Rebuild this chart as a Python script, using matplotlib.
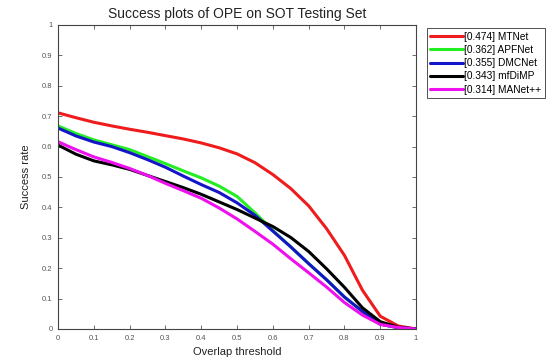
""" success plot (OPE) on the SOT testing set """

import numpy as np
import matplotlib.pyplot as plt

plt.rcParams['font.family'] = ['Liberation Sans', 'DejaVu Sans']

# overlap thresholds and success rates per tracker
thresholds = [0.0, 0.05, 0.1, 0.15, 0.2, 0.25, 0.3, 0.35, 0.4, 0.45, 0.5,
              0.55, 0.6, 0.65, 0.7, 0.75, 0.8, 0.85, 0.9, 0.95, 1.0]

mtnet = [0.711, 0.695, 0.680, 0.668, 0.657, 0.647, 0.636, 0.625, 0.612, 0.596, 0.576,
         0.547, 0.508, 0.462, 0.405, 0.330, 0.242, 0.128, 0.042, 0.010, 0.0]
apfnet = [0.668, 0.643, 0.622, 0.606, 0.590, 0.567, 0.544, 0.520, 0.497, 0.470, 0.436,
          0.382, 0.324, 0.270, 0.215, 0.162, 0.105, 0.058, 0.016, 0.004, 0.0]
dmcnet = [0.661, 0.635, 0.615, 0.600, 0.580, 0.557, 0.532, 0.503, 0.475, 0.449, 0.415,
          0.374, 0.322, 0.270, 0.215, 0.162, 0.105, 0.058, 0.016, 0.004, 0.0]
mfdimp = [0.605, 0.575, 0.553, 0.540, 0.525, 0.505, 0.485, 0.465, 0.443, 0.418, 0.393,
          0.365, 0.337, 0.301, 0.255, 0.198, 0.137, 0.070, 0.024, 0.006, 0.0]
manetpp = [0.616, 0.590, 0.566, 0.548, 0.528, 0.505, 0.479, 0.455, 0.430, 0.398, 0.362,
           0.321, 0.279, 0.231, 0.185, 0.138, 0.087, 0.046, 0.015, 0.005, 0.0]

labels = ['[0.474] MTNet', '[0.362] APFNet', '[0.355] DMCNet',
          '[0.343] mfDiMP', '[0.314] MANet++']
series = [mtnet, apfnet, dmcnet, mfdimp, manetpp]
colors = ['#ee1c1c', '#22ee22', '#1414c8', '#000000', '#ee10ee']

ticks = np.round(np.arange(0, 1.01, 0.1), 1)
tick_labels = ['0', '0.1', '0.2', '0.3', '0.4', '0.5', '0.6', '0.7', '0.8', '0.9', '1']

fig = plt.figure(figsize=(5.6, 3.62), dpi=100)
ax = fig.add_axes([0.1036, 0.0912, 0.6394, 0.8398])

for vals, lab, col in zip(series, labels, colors):
    ax.plot(thresholds, vals, color=col, lw=2.2, label=lab,
            solid_joinstyle='round', solid_capstyle='round')

ax.set_xlim(0, 1)
ax.set_ylim(0, 1)
ax.set_xticks(ticks)
ax.set_yticks(ticks)
ax.set_xticklabels(tick_labels)
ax.set_yticklabels(tick_labels)
ax.tick_params(direction='in', top=True, right=True, length=3, width=0.6,
               labelsize=5.5, labelcolor='#555555', color='#555555', pad=4)
for sp in ax.spines.values():
    sp.set_color('#444444')
    sp.set_linewidth(0.8)

ax.set_title('Success plots of OPE on SOT Testing Set', fontsize=10, pad=5, color='#222222')
ax.set_xlabel('Overlap threshold', fontsize=8, labelpad=4, color='#222222')
ax.set_ylabel('Success rate', fontsize=8, labelpad=8, color='#222222')

leg = ax.legend(loc='upper left', bbox_to_anchor=(1.03, 0.99), fontsize=7.3,
                frameon=True, fancybox=False, edgecolor='#333333', framealpha=1,
                handlelength=3.2, handletextpad=0.1, borderpad=0.35,
                labelspacing=0.32, borderaxespad=0)
leg.get_frame().set_linewidth(0.6)

plt.savefig('out.png', dpi=100)
